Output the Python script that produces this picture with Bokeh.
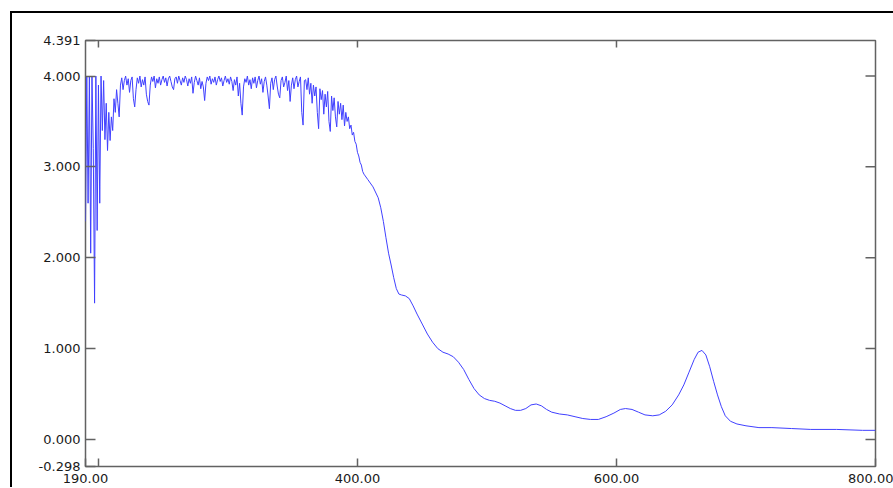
import math
from bokeh.plotting import figure
from bokeh.models import (FixedTicker, NumeralTickFormatter, LinearAxis, Range1d,
                          ColumnDataSource)
from bokeh.embed import file_html
from bokeh.resources import INLINE

# --- data: absorbance spectrum (wavelength nm, Abs) ---
noisy_wl = list(range(190, 407))
noisy_abs = [
    2.40, 4.00, 2.60, 3.99, 2.05, 4.00, 3.20, 1.50, 4.00, 2.30,
    3.90, 2.60, 4.00, 3.40, 3.95, 3.30, 3.70, 3.18, 3.60, 3.29,
    3.55, 3.40, 3.75, 3.60, 3.85, 3.70, 3.55, 3.90, 3.98, 3.85,
    3.95, 4.00, 3.90, 3.97, 3.82, 3.95, 3.99, 3.75, 3.66, 3.85,
    3.98, 3.92, 4.00, 3.88, 3.96, 3.90, 3.99, 3.80, 3.72, 3.68,
    3.90, 3.99, 3.94, 4.00, 3.87, 3.97, 3.92, 3.99, 3.90, 3.96,
    4.00, 3.93, 3.98, 3.89, 3.97, 4.00, 3.94, 3.88, 3.85, 3.97,
    3.99, 3.92, 4.00, 3.95, 3.90, 3.98, 3.93, 4.00, 3.96, 3.89,
    3.97, 3.92, 3.99, 3.81, 3.93, 4.00, 3.95, 3.90, 3.98, 3.86,
    3.94, 3.88, 3.73, 3.92, 3.99, 3.95, 4.00, 3.91, 3.97, 3.93,
    3.99, 3.90, 3.96, 4.00, 3.94, 3.98, 3.89, 3.95, 4.00, 3.93,
    3.97, 3.91, 3.99, 3.94, 3.84, 3.96, 3.90, 3.99, 3.78, 3.92,
    3.70, 3.57, 3.88, 3.97, 3.93, 4.00, 3.90, 3.96, 3.86, 3.98,
    3.92, 3.99, 3.87, 3.95, 4.00, 3.91, 3.97, 3.82, 3.94, 3.99,
    3.90, 3.78, 3.64, 3.92, 3.98, 3.85, 3.96, 4.00, 3.89, 3.80,
    3.76, 3.95, 3.99, 3.88, 3.93, 4.00, 3.84, 3.95, 3.72, 3.90,
    3.98, 3.86, 3.96, 4.00, 3.88, 3.94, 3.99, 3.60, 3.46, 3.95,
    3.96, 3.85, 3.98, 3.80, 3.92, 3.70, 3.90, 3.78, 3.88, 3.60,
    3.42, 3.86, 3.74, 3.84, 3.58, 3.80, 3.66, 3.83, 3.50, 3.39,
    3.78, 3.62, 3.76, 3.55, 3.44, 3.72, 3.58, 3.70, 3.52, 3.68,
    3.45, 3.60, 3.50, 3.55, 3.42, 3.46, 3.35, 3.38, 3.28, 3.25,
    3.16, 3.12, 3.05, 3.02, 2.95, 2.92, 2.90,
]

smooth_wl = [408, 412, 416, 418, 420, 422, 424, 426, 428, 430, 432, 434, 437, 440,
             443, 446, 450, 454, 458, 462, 466, 470, 474, 478, 482, 486, 490, 494,
             498, 502, 506, 510, 514, 518, 522, 526, 530, 534, 538, 542, 546, 550,
             556, 562, 568, 574, 580, 586, 592, 598, 603, 607, 612, 617, 622, 628,
             633, 638, 643, 648, 652, 656, 660, 663, 666, 669, 672, 675, 678, 681,
             684, 688, 693, 700, 710, 720, 735, 750, 770, 790, 800]
smooth_abs = [2.86, 2.78, 2.66, 2.55, 2.40, 2.22, 2.05, 1.92, 1.78, 1.66, 1.60, 1.59, 1.58, 1.55,
              1.47, 1.38, 1.27, 1.16, 1.07, 1.00, 0.96, 0.94, 0.91, 0.85, 0.77, 0.66, 0.56, 0.49,
              0.45, 0.43, 0.42, 0.40, 0.37, 0.34, 0.32, 0.32, 0.34, 0.38, 0.39, 0.37, 0.33, 0.30,
              0.28, 0.27, 0.25, 0.23, 0.22, 0.22, 0.25, 0.29, 0.33, 0.34, 0.33, 0.30, 0.27, 0.26,
              0.27, 0.31, 0.38, 0.49, 0.60, 0.74, 0.88, 0.96, 0.98, 0.93, 0.80, 0.64, 0.49, 0.36,
              0.26, 0.20, 0.17, 0.15, 0.13, 0.13, 0.12, 0.11, 0.11, 0.10, 0.10]

x_min, x_max = 190.0, 800.0
y_min, y_max = -0.298, 4.391
x_tick_values = [190, 400, 600, 800]
x_minor_values = [200]
y_tick_values = [-0.298, 0, 1, 2, 3, 4, 4.391]
y_inner_ticks = [0, 1, 2, 3, 4]
x_inner_ticks = [200, 400, 600]

wl = noisy_wl + smooth_wl
ab = noisy_abs + smooth_abs
src = ColumnDataSource(dict(wl=wl, ab=ab))

FRAME = "#626262"
FONT = "DejaVu Sans"

p = figure(width=881, height=474, output_backend="svg", toolbar_location=None,
           x_range=Range1d(x_min, x_max), y_range=Range1d(y_min, y_max),
           min_border_left=73, min_border_top=27, min_border_right=20, min_border_bottom=23,
           x_axis_location=None, y_axis_location=None)
p.styles = {"margin-left": "10px", "margin-top": "11px", "box-sizing": "content-box",
            "border-left": "2px solid black", "border-top": "2px solid black"}
p.background_fill_color = "white"
p.border_fill_color = "white"
p.outline_line_color = FRAME
p.outline_line_width = 1.5
p.xgrid.visible = False
p.ygrid.visible = False

p.line("wl", "ab", source=src, line_color="#4040ff", line_width=1.0)

xt = FixedTicker(ticks=x_tick_values, minor_ticks=x_minor_values)
yt = FixedTicker(ticks=y_tick_values, minor_ticks=[])


def style(ax, tick_in):
    ax.axis_line_color = None
    ax.major_tick_in = tick_in
    ax.major_tick_out = 0
    ax.minor_tick_in = tick_in
    ax.minor_tick_out = 0
    ax.major_tick_line_color = FRAME
    ax.minor_tick_line_color = FRAME
    ax.major_tick_line_width = 1.5
    ax.minor_tick_line_width = 1.5
    ax.major_label_text_font = FONT
    ax.major_label_text_font_size = "13px"
    ax.major_label_text_color = "#1a1a1a"


bx = LinearAxis(ticker=xt, formatter=NumeralTickFormatter(format="0.00"))
style(bx, 8)
bx.major_label_standoff = 7
p.add_layout(bx, "below")

ly = LinearAxis(ticker=yt, formatter=NumeralTickFormatter(format="0.000"))
style(ly, 10)
ly.major_label_standoff = 5
p.add_layout(ly, "left")

# inward tick marks on the top and right edges of the frame
p.ray(x=x_inner_ticks, y=[y_max] * len(x_inner_ticks), length=7, length_units="screen",
      angle=-math.pi / 2, line_color=FRAME, line_width=1.5)
p.ray(x=[x_max] * len(y_inner_ticks), y=y_inner_ticks, length=10, length_units="screen",
      angle=math.pi, line_color=FRAME, line_width=1.5)

open("out.html", "w").write(file_html(p, INLINE))
